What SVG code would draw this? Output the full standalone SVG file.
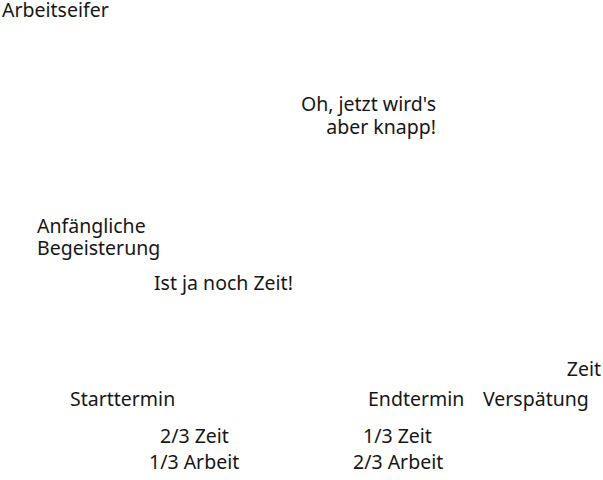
<svg xmlns="http://www.w3.org/2000/svg" width="603" height="480" viewBox="0 0 603 480">
<style>
text{font-family:"Noto Sans","Liberation Sans",sans-serif;font-size:19.5px;fill:#161616}
.r{text-anchor:end}
</style>
<rect width="603" height="480" fill="#ffffff"/>
<g id="axis-y"><text x="2" y="17">Arbeitseifer</text></g>
<g id="label-knapp"><text class="r" x="436" y="111">Oh, jetzt wird's</text><text class="r" x="436" y="134">aber knapp!</text></g>
<g id="label-begeisterung"><text x="37" y="233">Anfängliche</text><text x="37" y="255">Begeisterung</text></g>
<g id="label-zeit"><text x="154" y="290">Ist ja noch Zeit!</text></g>
<g id="axis-x"><text class="r" x="601" y="376">Zeit</text></g>
<g id="start"><text x="70" y="406">Starttermin</text></g>
<g id="end"><text x="368" y="406">Endtermin</text></g>
<g id="delay"><text x="483" y="406">Verspätung</text></g>
<g id="phase1"><text x="160" y="443">2/3 Zeit</text><text x="149" y="469">1/3 Arbeit</text></g>
<g id="phase2"><text x="363" y="443">1/3 Zeit</text><text x="353" y="469">2/3 Arbeit</text></g>
<g id="connectors"></g>
</svg>
